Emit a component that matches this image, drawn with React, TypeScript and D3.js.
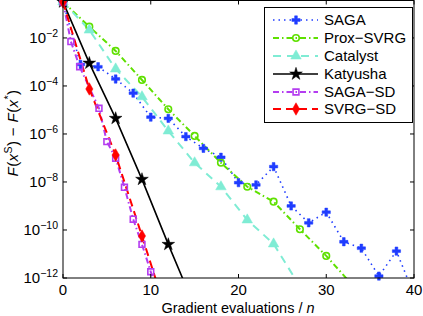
import React from 'react';
import * as d3 from 'd3';

// values, as log10 of F(x^s) - F(x*)
const sagaX = [0, 2, 4, 6, 8, 10, 12, 14, 16, 18, 20, 22, 24, 26, 28, 30, 32, 34, 36, 38, 40];
const sagaY = [-0.5, -3.1, -3.2, -3.71, -4.3, -5.3, -5.35, -6.11, -6.6, -6.97, -8.03, -8.12, -7.36, -9.0, -9.7, -9.26, -10.49, -10.76, -11.92, -10.88, -12.7];

const proxX = [0, 3, 6, 9, 12, 15, 18, 21, 24, 27, 30, 33];
const proxY = [-0.5, -1.53, -2.54, -3.75, -4.97, -6.08, -7.2, -8.2, -8.82, -9.97, -11.08, -12.3];

const catX = [0, 3, 6, 9, 12, 15, 18, 21, 24, 27];
const catY = [-0.5, -1.67, -3.29, -4.45, -5.875, -7.2, -8.2, -9.58, -10.58, -12.35];

const katX = [0, 3, 6, 9, 12, 15];
const katY = [-0.5, -3.05, -5.35, -7.89, -10.6, -13.2];

const sagaSdX = [0, 0.9, 1.9, 4.1, 5, 6, 7, 8, 9, 10, 11];
const sagaSdY = [-0.5, -2.15, -3.2, -4.93, -6.32, -7.01, -8.22, -9.55, -10.6, -11.74, -13.0];

const svrgSdX = [0, 3, 6, 9, 12];
const svrgSdY = [-0.5, -4.125, -6.875, -10.25, -13.7];

const xTicks = [0, 10, 20, 30, 40];
const yTickExps = [-2, -4, -6, -8, -10, -12];

const W = 423;
const H = 316;
const left = 63;
const right = 414;
const top = 0.5;
const bottom = 278;

const x = d3.scaleLinear().domain([0, 40]).range([left, right]);
const y = d3.scaleLog().domain([1e-12, Math.pow(10, -0.44)]).range([bottom, top]);

const series = [
  { name: 'SAGA', xs: sagaX, ys: sagaY, color: '#1f3cff', dash: '1.5,4', width: 1.6, symbol: d3.symbolCross, size: 38, filled: true },
  { name: 'Prox\u2212SVRG', xs: proxX, ys: proxY, color: '#5fe000', dash: '6,3,1.5,3', width: 2, symbol: d3.symbolCircle, size: 34, filled: false },
  { name: 'Catalyst', xs: catX, ys: catY, color: '#7fecd4', dash: '8,6', width: 2, symbol: d3.symbolTriangle, size: 48, filled: true },
  { name: 'Katyusha', xs: katX, ys: katY, color: '#000000', dash: null, width: 1.6, symbol: d3.symbolStar, size: 50, filled: true },
  { name: 'SAGA\u2212SD', xs: sagaSdX, ys: sagaSdY, color: '#b43cf0', dash: '6,3,1.5,3', width: 2, symbol: d3.symbolSquare, size: 34, filled: false },
  { name: 'SVRG\u2212SD', xs: svrgSdX, ys: svrgSdY, color: '#ff0000', dash: '8,5', width: 2, symbol: d3.symbolDiamond, size: 45, filled: true },
];

const font = 'Liberation Sans, Arial, Helvetica, sans-serif';

function Marker({ s, cx, cy }: { s: any; cx: number; cy: number }) {
  const path = d3.symbol().type(s.symbol).size(s.size)();
  return (
    <path
      d={path || ''}
      transform={`translate(${cx},${cy})`}
      fill={s.filled ? s.color : 'none'}
      stroke={s.color}
      strokeWidth={s.filled ? 0.5 : 1.6}
    />
  );
}

export default function App() {
  const line = d3
    .line<[number, number]>()
    .x((d) => x(d[0]))
    .y((d) => y(Math.pow(10, d[1])));

  const legendRows = [20, 38, 56, 74, 92, 109];

  return (
    <svg
      width={W}
      height={H}
      style={{ position: 'absolute', left: 0, top: 0, background: '#fff' }}
      fontFamily={font}
    >
      <defs>
        <clipPath id="plot">
          <rect x={left} y={top} width={right - left} height={bottom - top} />
        </clipPath>
      </defs>
      <rect width={W} height={H} fill="#fff" />

      {/* series */}
      <g clipPath="url(#plot)">
        {series.map((s) => (
          <path
            key={s.name}
            d={line(s.xs.map((v, i) => [v, s.ys[i]] as [number, number])) || ''}
            fill="none"
            stroke={s.color}
            strokeWidth={s.width}
            strokeDasharray={s.dash || undefined}
          />
        ))}
      </g>
      {series.map((s) => (
        <g key={s.name + 'm'}>
          {s.xs.map((v, i) =>
            s.ys[i] >= -12.05 ? (
              <Marker key={i} s={s} cx={x(v)} cy={y(Math.pow(10, s.ys[i]))} />
            ) : null
          )}
        </g>
      ))}

      {/* axes box */}
      <rect x={left} y={top} width={right - left} height={bottom - top} fill="none" stroke="#000" strokeWidth={1} />

      {/* x ticks */}
      {xTicks.map((t) => (
        <g key={'x' + t}>
          <line x1={x(t)} x2={x(t)} y1={bottom} y2={bottom - 4} stroke="#000" />
          <line x1={x(t)} x2={x(t)} y1={top} y2={top + 4} stroke="#000" />
          <text x={x(t)} y={295} fontSize={15} textAnchor="middle">
            {t}
          </text>
        </g>
      ))}

      {/* y ticks */}
      {yTickExps.map((e) => {
        const yy = y(Math.pow(10, e));
        return (
          <g key={'y' + e}>
            <line x1={left} x2={left + 4} y1={yy} y2={yy} stroke="#000" />
            <line x1={right} x2={right - 4} y1={yy} y2={yy} stroke="#000" />
            <text x={58} y={yy + 5} fontSize={15} textAnchor="end">
              10
              <tspan dy={-6} fontSize={10.5}>
                {'\u2212' + Math.abs(e)}
              </tspan>
            </text>
          </g>
        );
      })}

      {/* axis labels */}
      <text x={238} y={313} fontSize={14.5} textAnchor="middle">
        Gradient evaluations / <tspan fontStyle="italic">n</tspan>
      </text>
      <text transform="translate(18,133) rotate(-90)" fontSize={15} textAnchor="middle" letterSpacing={0.4}>
        <tspan fontStyle="italic">F</tspan>(<tspan fontStyle="italic">x</tspan>
        <tspan dy={-6} fontSize={10.5}>S</tspan>
        <tspan dy={6}>) {'\u2212'} </tspan>
        <tspan fontStyle="italic">F</tspan>(<tspan fontStyle="italic">x</tspan>
        <tspan dy={-6} fontSize={10.5}>*</tspan>
        <tspan dy={6}>)</tspan>
      </text>

      {/* legend */}
      <rect x={264.5} y={7.5} width={148} height={115} fill="#fff" stroke="#000" strokeWidth={1} />
      {series.map((s, i) => (
        <g key={s.name + 'l'}>
          <line
            x1={273}
            x2={318}
            y1={legendRows[i]}
            y2={legendRows[i]}
            stroke={s.color}
            strokeWidth={s.width}
            strokeDasharray={s.dash || undefined}
          />
          <Marker s={s} cx={296} cy={legendRows[i]} />
          <text x={324} y={legendRows[i] + 5} fontSize={15}>
            {s.name}
          </text>
        </g>
      ))}
    </svg>
  );
}
